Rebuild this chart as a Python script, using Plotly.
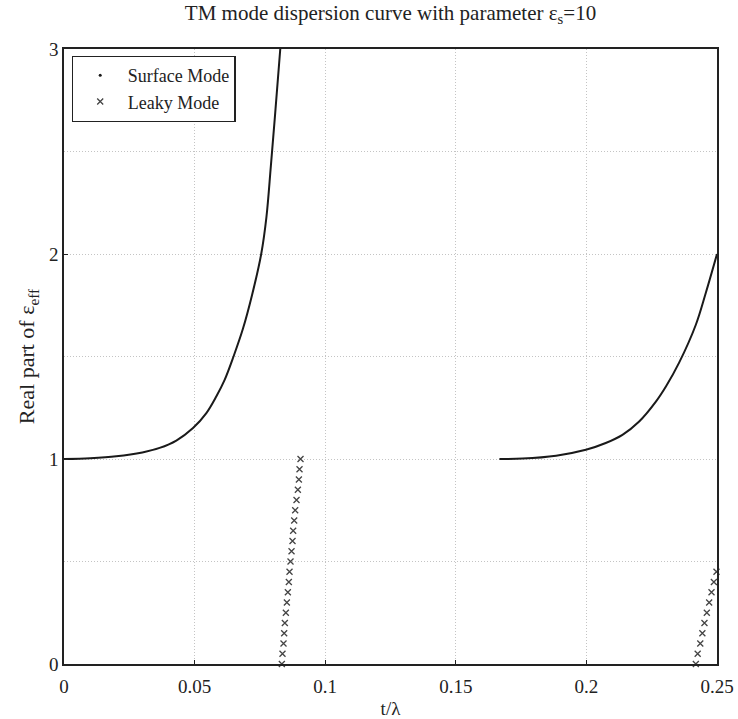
import plotly.graph_objects as go

# Surface mode branch 1 (t/lambda, Re eps_eff)
s1_t = [0.0, 0.01, 0.02, 0.03, 0.0366, 0.043, 0.0494, 0.0545, 0.0583, 0.0615, 0.0649,
        0.0685, 0.072, 0.0755, 0.0775, 0.0792, 0.0810, 0.0828]
s1_e = [1.0, 1.004, 1.013, 1.032, 1.054, 1.09, 1.151, 1.224, 1.305, 1.386, 1.5,
        1.635, 1.80, 2.0, 2.18, 2.43, 2.71, 3.0]

# Surface mode branch 2
s2_t = [0.1667, 0.1756, 0.1884, 0.1998, 0.2074, 0.2138, 0.2202, 0.2266, 0.2305, 0.2355,
        0.2419, 0.2457, 0.25]
s2_e = [1.0, 1.002, 1.016, 1.045, 1.078, 1.118, 1.183, 1.28, 1.355, 1.47,
        1.655, 1.81, 2.0]

# Leaky mode branch 1
l1_t = [0.08340, 0.08365, 0.08404, 0.08429, 0.08455, 0.08493, 0.08532, 0.08570, 0.08608,
        0.08634, 0.08672, 0.08711, 0.08749, 0.08774, 0.08813, 0.08851, 0.08902, 0.08953,
        0.08992, 0.09017, 0.09055]
l1_e = [0.0, 0.05, 0.10, 0.15, 0.20, 0.25, 0.30, 0.35, 0.40, 0.45, 0.50, 0.55, 0.60, 0.65,
        0.70, 0.75, 0.80, 0.85, 0.90, 0.95, 1.0]

# Leaky mode branch 2
l2_t = [0.2419, 0.2426, 0.2436, 0.2444, 0.2452, 0.2461, 0.2470, 0.2479, 0.2488, 0.2498]
l2_e = [0.0, 0.05, 0.10, 0.15, 0.20, 0.25, 0.30, 0.35, 0.40, 0.45]

x_ticks = [0, 0.05, 0.1, 0.15, 0.2, 0.25]
x_labels = ["0", "0.05", "0.1", "0.15", "0.2", "0.25"]
y_ticks = [0, 1, 2, 3]
y_labels = ["0", "1", "2", "3"]

FONT = "Liberation Serif"
line_style = dict(color="#1a1a1a", width=2, shape="spline", smoothing=1.0)
leaky_marker = dict(symbol="x-thin", size=6, color="#444444", line=dict(width=1.3, color="#444444"))
GRID = "#c4c4c4"
GDASH = "1px,2px"

fig = go.Figure()
fig.add_trace(go.Scatter(x=s1_t, y=s1_e, mode="lines", line=line_style, showlegend=False))
fig.add_trace(go.Scatter(x=s2_t, y=s2_e, mode="lines", line=line_style, showlegend=False))
fig.add_trace(go.Scatter(x=l1_t, y=l1_e, mode="markers", marker=leaky_marker, showlegend=False, cliponaxis=False))
fig.add_trace(go.Scatter(x=l2_t, y=l2_e, mode="markers", marker=leaky_marker, showlegend=False, cliponaxis=False))
# legend entries
fig.add_trace(go.Scatter(x=[None], y=[None], mode="markers", name="Surface Mode",
                         marker=dict(symbol="circle", size=3, color="#1a1a1a")))
fig.add_trace(go.Scatter(x=[None], y=[None], mode="markers", name="Leaky Mode",
                         marker=leaky_marker))

fig.update_layout(
    width=738, height=719,
    margin=dict(l=64, r=21, t=49, b=55, autoexpand=False),
    paper_bgcolor="white", plot_bgcolor="white",
    font=dict(family=FONT, size=19, color="#222222"),
    title=dict(text="TM mode dispersion curve with parameter ε<sub>s</sub>=10",
               x=0.5, xref="paper", xanchor="center", y=0.993, yanchor="top",
               font=dict(family=FONT, size=21, color="#222222")),
    legend=dict(x=0.0115, y=0.989, xanchor="left", yanchor="top",
                bgcolor="white", bordercolor="#222222", borderwidth=1.2,
                font=dict(family=FONT, size=18, color="#222222"),
                itemwidth=45, tracegroupgap=0),
    showlegend=True,
)
fig.update_xaxes(
    range=[0, 0.25], tickvals=x_ticks, ticktext=x_labels,
    showline=True, linecolor="#222222", linewidth=1.5, mirror=True,
    ticks="inside", ticklen=4, tickcolor="#222222",
    showgrid=True, gridcolor=GRID, griddash=GDASH, gridwidth=1,
    zeroline=False, ticklabelstandoff=4, automargin=False,
    title=dict(text="t/λ", font=dict(family=FONT, size=19), standoff=6),
    tickfont=dict(family=FONT, size=19),
)
fig.update_yaxes(
    range=[0, 3], tickvals=y_ticks, ticktext=y_labels,
    showline=True, linecolor="#222222", linewidth=1.5, mirror=True,
    ticks="inside", ticklen=4, tickcolor="#222222",
    showgrid=True, gridcolor=GRID, griddash=GDASH, gridwidth=1,
    minor=dict(dtick=0.5, showgrid=True, gridcolor=GRID, griddash=GDASH, ticks=""),
    zeroline=False, automargin=False,
    title=dict(text="Real part of ε<sub>eff</sub>", font=dict(family=FONT, size=22), standoff=8),
    tickfont=dict(family=FONT, size=19),
)

fig.write_html("out.html")
